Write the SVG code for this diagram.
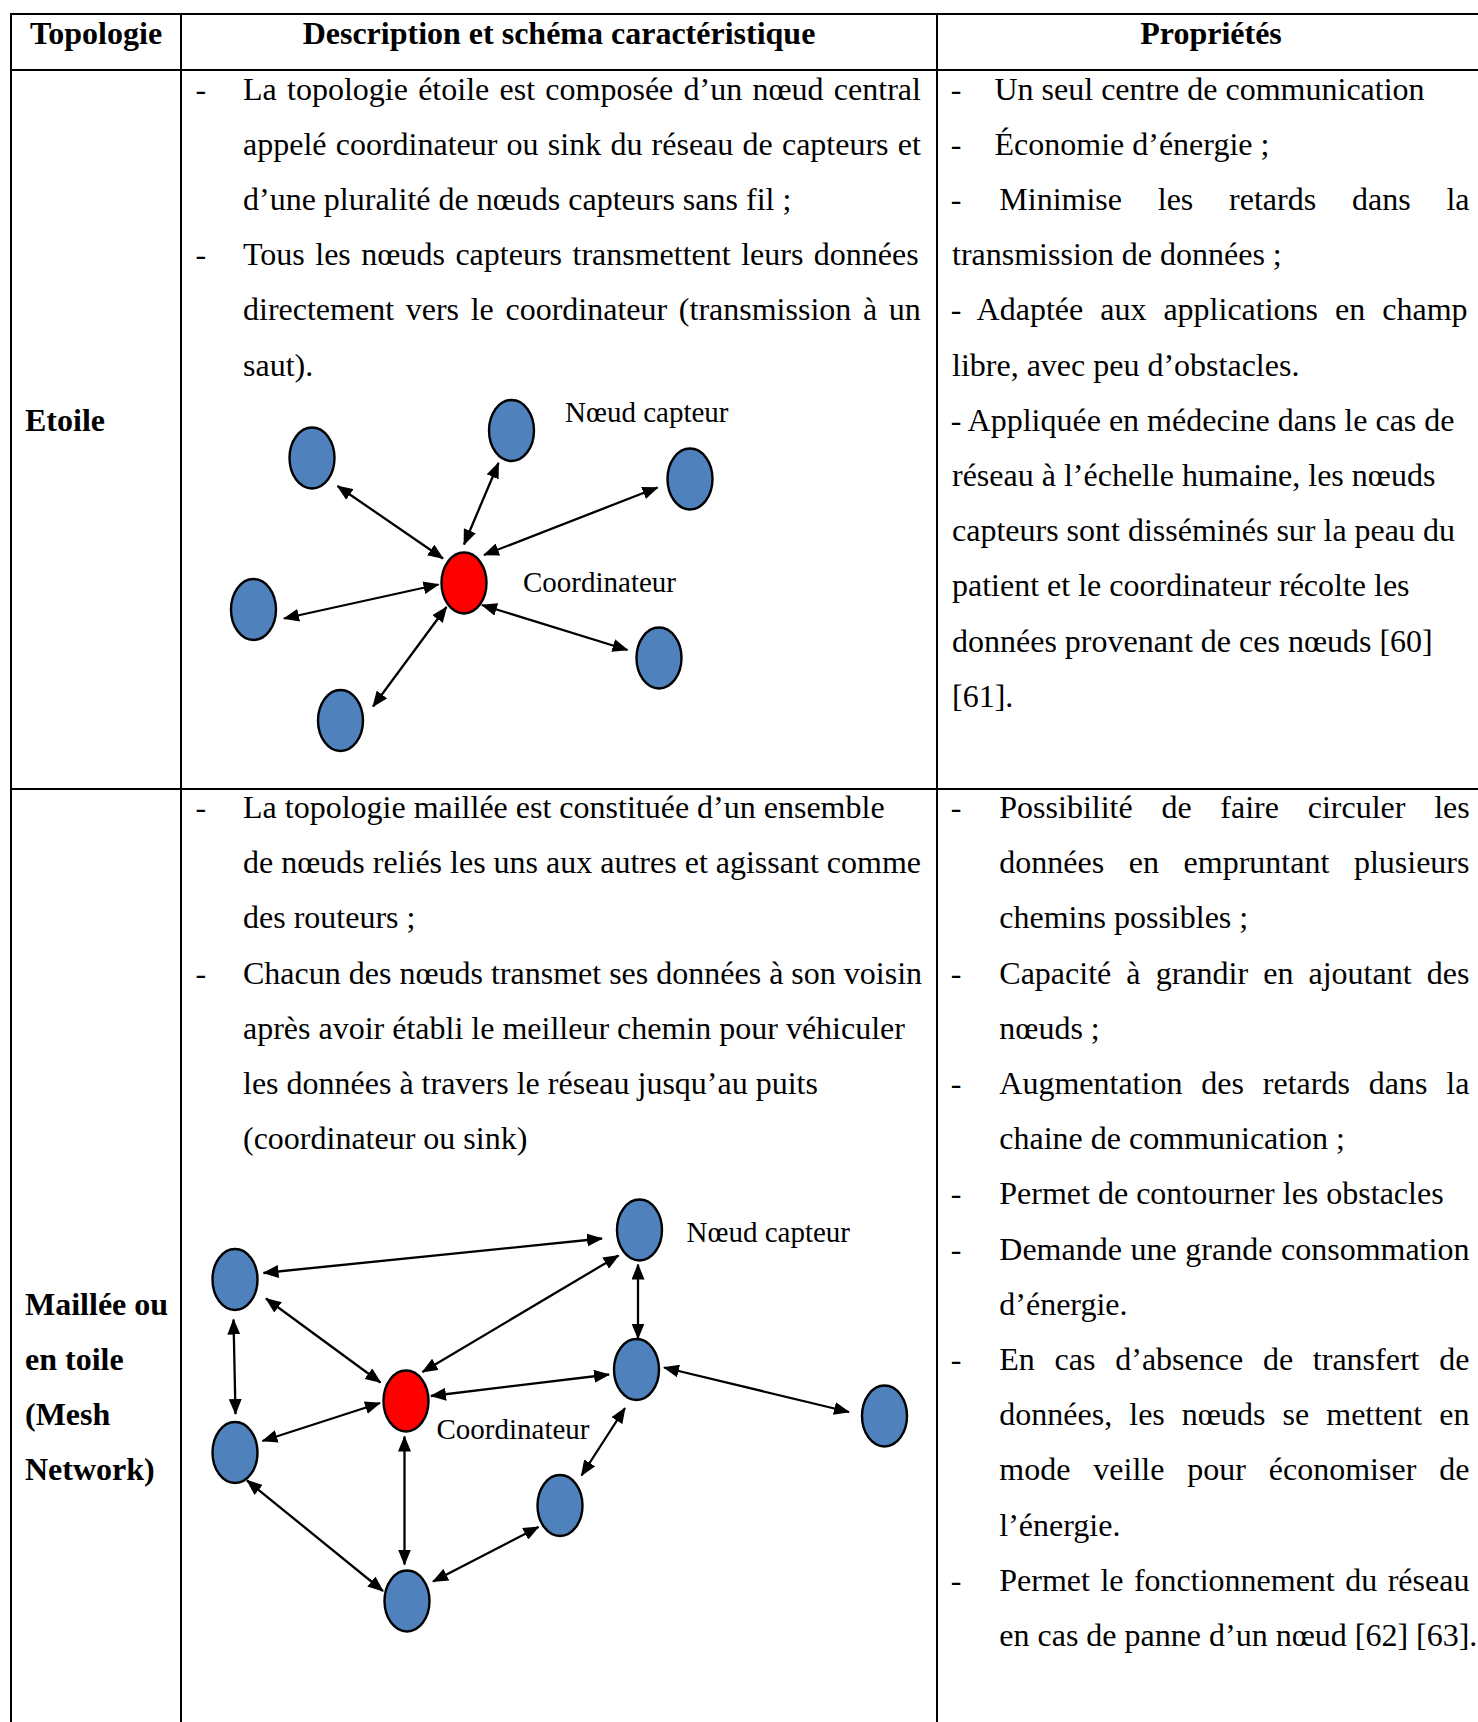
<svg xmlns="http://www.w3.org/2000/svg" width="1478" height="1722" viewBox="0 0 1478 1722">
<style>
.t{font-family:"Liberation Serif","Times New Roman",serif;font-size:32px;fill:#000}
.b{font-weight:bold}
.lbl{font-family:"Liberation Serif","Times New Roman",serif;font-size:29px;fill:#000}
.grid{stroke:#000;stroke-width:2;fill:none}
.node{fill:#4F81BD;stroke:#000;stroke-width:2.4}
.coord{fill:#FF0000;stroke:#000;stroke-width:2.4}
.arrow{stroke:#000;stroke-width:2.3;fill:none;marker-start:url(#ah);marker-end:url(#ah)}
</style>
<defs>
<marker id="ah" viewBox="0 0 16 13" refX="15" refY="6.5" markerWidth="16" markerHeight="13" markerUnits="userSpaceOnUse" orient="auto-start-reverse">
<path d="M0,0 L16,6.5 L0,13 z" fill="#000"/>
</marker>
</defs>
<rect width="1478" height="1722" fill="#fff"/>

<g id="table-grid" class="grid">
<line x1="11" y1="14" x2="1478" y2="14"/>
<line x1="11" y1="70" x2="1478" y2="70"/>
<line x1="11" y1="789" x2="1478" y2="789"/>
<line x1="11" y1="13" x2="11" y2="1722"/>
<line x1="181" y1="13" x2="181" y2="1722"/>
<line x1="937" y1="13" x2="937" y2="1722"/>
</g>

<g id="header">
<text class="t b" x="96" y="44" text-anchor="middle">Topologie</text>
<text class="t b" x="559" y="44" text-anchor="middle">Description et schéma caractéristique</text>
<text class="t b" x="1211" y="44" text-anchor="middle">Propriétés</text>
</g>

<g id="row1-topology">
<text class="t b" x="25" y="430.7">Etoile</text>
</g>

<g id="row1-description">
<text class="t" x="195.5" y="99.5">-</text>
<text class="t" x="243" y="99.5" style="word-spacing:2.27px">La topologie étoile est composée d’un nœud central</text>
<text class="t" x="243" y="154.7" style="word-spacing:1.21px">appelé coordinateur ou sink du réseau de capteurs et</text>
<text class="t" x="243" y="209.9">d’une pluralité de nœuds capteurs sans fil ;</text>
<text class="t" x="195.5" y="265.1">-</text>
<text class="t" x="243" y="265.1" style="word-spacing:2.5px">Tous les nœuds capteurs transmettent leurs données</text>
<text class="t" x="243" y="320.3" style="word-spacing:3.68px">directement vers le coordinateur (transmission à un</text>
<text class="t" x="243" y="375.5">saut).</text>
</g>

<g id="row1-properties">
<text class="t" x="950.7" y="99.5">-</text>
<text class="t" x="994.5" y="99.5">Un seul centre de communication</text>
<text class="t" x="950.7" y="154.7">-</text>
<text class="t" x="994.5" y="154.7">Économie d’énergie ;</text>
<text class="t" x="950.7" y="209.9">-</text>
<text class="t" x="999.3" y="209.9" style="word-spacing:27.8px">Minimise les retards dans la</text>
<text class="t" x="952" y="265.1">transmission de données ;</text>
<text class="t" x="950.7" y="320.3" style="word-spacing:9px">- Adaptée aux applications en champ</text>
<text class="t" x="952" y="375.5">libre, avec peu d’obstacles.</text>
<text class="t" x="950.7" y="430.7">- Appliquée en médecine dans le cas de</text>
<text class="t" x="952" y="485.9">réseau à l’échelle humaine, les nœuds</text>
<text class="t" x="952" y="541.1">capteurs sont disséminés sur la peau du</text>
<text class="t" x="952" y="596.3">patient et le coordinateur récolte les</text>
<text class="t" x="952" y="651.5">données provenant de ces nœuds [60]</text>
<text class="t" x="952" y="706.7">[61].</text>
</g>

<g id="row2-topology">
<text class="t b" x="25" y="1314.8">Maillée ou</text>
<text class="t b" x="25" y="1370">en toile</text>
<text class="t b" x="25" y="1425.2">(Mesh</text>
<text class="t b" x="25" y="1480.4">Network)</text>
</g>

<g id="row2-description">
<text class="t" x="195.5" y="818">-</text>
<text class="t" x="243" y="818">La topologie maillée est constituée d’un ensemble</text>
<text class="t" x="243" y="873.2">de nœuds reliés les uns aux autres et agissant comme</text>
<text class="t" x="243" y="928.4">des routeurs ;</text>
<text class="t" x="195.5" y="983.6">-</text>
<text class="t" x="243" y="983.6">Chacun des nœuds transmet ses données à son voisin</text>
<text class="t" x="243" y="1038.8">après avoir établi le meilleur chemin pour véhiculer</text>
<text class="t" x="243" y="1094">les données à travers le réseau jusqu’au puits</text>
<text class="t" x="243" y="1149.2">(coordinateur ou sink)</text>
</g>

<g id="row2-properties">
<text class="t" x="950.7" y="818">-</text>
<text class="t" x="999.3" y="818" style="word-spacing:20.75px">Possibilité de faire circuler les</text>
<text class="t" x="999.3" y="873.2" style="word-spacing:16.6px">données en empruntant plusieurs</text>
<text class="t" x="999.3" y="928.4">chemins possibles ;</text>
<text class="t" x="950.7" y="983.6">-</text>
<text class="t" x="999.3" y="983.6" style="word-spacing:7.12px">Capacité à grandir en ajoutant des</text>
<text class="t" x="999.3" y="1038.8">nœuds ;</text>
<text class="t" x="950.7" y="1094">-</text>
<text class="t" x="999.3" y="1094" style="word-spacing:10.9px">Augmentation des retards dans la</text>
<text class="t" x="999.3" y="1149.2">chaine de communication ;</text>
<text class="t" x="950.7" y="1204.4">-</text>
<text class="t" x="999.3" y="1204.4">Permet de contourner les obstacles</text>
<text class="t" x="950.7" y="1259.6">-</text>
<text class="t" x="999.3" y="1259.6" style="word-spacing:0.6px">Demande une grande consommation</text>
<text class="t" x="999.3" y="1314.8">d’énergie.</text>
<text class="t" x="950.7" y="1370">-</text>
<text class="t" x="999.3" y="1370" style="word-spacing:11.76px">En cas d’absence de transfert de</text>
<text class="t" x="999.3" y="1425.2" style="word-spacing:9.08px">données, les nœuds se mettent en</text>
<text class="t" x="999.3" y="1480.4" style="word-spacing:14.9px">mode veille pour économiser de</text>
<text class="t" x="999.3" y="1535.6">l’énergie.</text>
<text class="t" x="950.7" y="1590.8">-</text>
<text class="t" x="999.3" y="1590.8" style="word-spacing:2.45px">Permet le fonctionnement du réseau</text>
<text class="t" x="999.3" y="1646">en cas de panne d’un nœud [62] [63].</text>
</g>

<g id="star-connectors">
<path class="arrow" d="M337.5,486 L443,558.5"/>
<path class="arrow" d="M498.5,463 L464,544.5"/>
<path class="arrow" d="M657.5,487.5 L484,555"/>
<path class="arrow" d="M284,618.5 L438.5,584.5"/>
<path class="arrow" d="M482,605 L627.5,650"/>
<path class="arrow" d="M446.5,607 L373,706.5"/>
</g>

<g id="star-coordinator"><ellipse class="coord" cx="464" cy="583" rx="22.5" ry="30.5"/></g>
<g id="star-node-tl"><ellipse class="node" cx="312" cy="458" rx="22.5" ry="30.5"/></g>
<g id="star-node-top"><ellipse class="node" cx="511.5" cy="430.5" rx="22.5" ry="30.5"/></g>
<g id="star-node-right"><ellipse class="node" cx="690" cy="479" rx="22.5" ry="30.5"/></g>
<g id="star-node-left"><ellipse class="node" cx="253.5" cy="609.5" rx="22.5" ry="30.5"/></g>
<g id="star-node-br"><ellipse class="node" cx="659" cy="658" rx="22.5" ry="30.5"/></g>
<g id="star-node-bottom"><ellipse class="node" cx="340.5" cy="720.5" rx="22.5" ry="30.5"/></g>
<g id="star-labels">
<text class="lbl" x="565" y="422">Nœud capteur</text>
<text class="lbl" x="523" y="592">Coordinateur</text>
</g>

<g id="mesh-connectors">
<path class="arrow" d="M263.5,1273 L602,1238.5"/>
<path class="arrow" d="M266,1298.5 L380.5,1382.5"/>
<path class="arrow" d="M422.5,1372 L618.5,1255.5"/>
<path class="arrow" d="M638,1264.5 L638,1338.5"/>
<path class="arrow" d="M233.5,1319.5 L235.5,1414"/>
<path class="arrow" d="M431,1396 L609,1374.5"/>
<path class="arrow" d="M664,1367.5 L849,1412"/>
<path class="arrow" d="M262.5,1441 L380,1403"/>
<path class="arrow" d="M404.5,1436.5 L404.5,1564.5"/>
<path class="arrow" d="M247,1480.5 L383,1591"/>
<path class="arrow" d="M625,1408 L581.5,1475.5"/>
<path class="arrow" d="M433,1581.5 L538.5,1527"/>
</g>

<g id="mesh-coordinator"><ellipse class="coord" cx="406" cy="1401" rx="22.5" ry="30.5"/></g>
<g id="mesh-node-a"><ellipse class="node" cx="235" cy="1279.5" rx="22.5" ry="30.5"/></g>
<g id="mesh-node-b"><ellipse class="node" cx="639.5" cy="1230" rx="22.5" ry="30.5"/></g>
<g id="mesh-node-c"><ellipse class="node" cx="235" cy="1452.5" rx="22.5" ry="30.5"/></g>
<g id="mesh-node-d"><ellipse class="node" cx="636.5" cy="1369.5" rx="22.5" ry="30.5"/></g>
<g id="mesh-node-e"><ellipse class="node" cx="884.5" cy="1416" rx="22.5" ry="30.5"/></g>
<g id="mesh-node-f"><ellipse class="node" cx="560" cy="1505.5" rx="22.5" ry="30.5"/></g>
<g id="mesh-node-g"><ellipse class="node" cx="407" cy="1601" rx="22.5" ry="30.5"/></g>
<g id="mesh-labels">
<text class="lbl" x="686.5" y="1242">Nœud capteur</text>
<text class="lbl" x="436.5" y="1439">Coordinateur</text>
</g>
</svg>
